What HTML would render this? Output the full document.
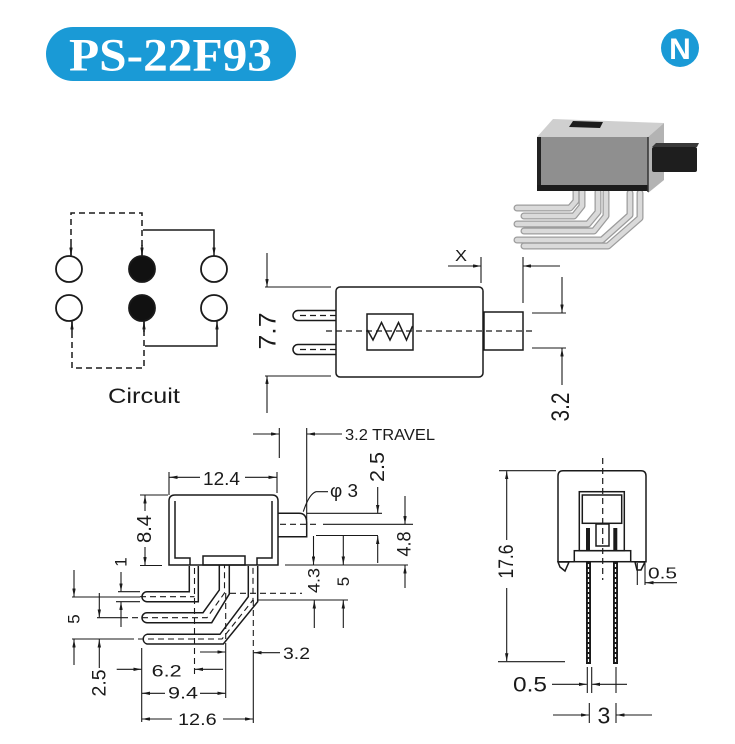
<!DOCTYPE html>
<html><head><meta charset="utf-8"><style>
html,body{margin:0;padding:0;background:#fff;}
svg{display:block;}
text{font-family:"Liberation Sans",Arial,sans-serif;fill:#1a1a1a;}
</style></head><body>
<svg width="735" height="744" viewBox="0 0 735 744" xmlns="http://www.w3.org/2000/svg">
<defs>
<marker id="a" viewBox="0 0 8 3.4" refX="8" refY="1.7" markerWidth="8" markerHeight="3.4" markerUnits="userSpaceOnUse" orient="auto"><path d="M0,0L8,1.7L0,3.4z" fill="#1a1a1a"/></marker>
</defs>
<rect width="735" height="744" fill="#fff"/>

<!-- Title -->
<rect x="46" y="27" width="250" height="54" rx="27" fill="#1a9ad6"/>
<text x="69" y="70.5" font-family="Liberation Serif, serif" font-weight="bold" font-size="47" style="fill:#fff;font-family:'Liberation Serif',serif" textLength="203" lengthAdjust="spacingAndGlyphs">PS-22F93</text>
<circle cx="680" cy="48" r="19" fill="#1a9ad6"/>
<text x="680" y="59" text-anchor="middle" font-weight="bold" font-size="30" style="fill:#fff">N</text>

<!-- Product photo -->
<g fill="none" stroke-linecap="round" stroke-linejoin="round">
 <g stroke="#9c9c9c" stroke-width="7">
  <path d="M517,208 H570 L576,201 V190"/>
  <path d="M524,216 H574 L582,206 V190"/>
  <path d="M517,224 H588 L598,212 V192"/>
  <path d="M524,231 H594 L606,216 V192"/>
  <path d="M517,240 H602 L630,215 V193"/>
  <path d="M524,246 H608 L640,218 V193"/>
 </g>
 <g stroke="#dadada" stroke-width="4.5">
  <path d="M517,208 H570 L576,201 V190"/>
  <path d="M524,216 H574 L582,206 V190"/>
  <path d="M517,224 H588 L598,212 V192"/>
  <path d="M524,231 H594 L606,216 V192"/>
  <path d="M517,240 H602 L630,215 V193"/>
  <path d="M524,246 H608 L640,218 V193"/>
 </g>
</g>
<polygon points="537,137 553,119 664,123 648,137" fill="#cfcfcf"/>
<polygon points="569,127 573,121 603,122 600,128" fill="#1c1c1c"/>
<rect x="537" y="137" width="111" height="52" fill="#8f8f8f"/>
<rect x="537" y="137" width="4" height="52" fill="#222"/>
<rect x="537" y="185" width="111" height="6" fill="#1c1c1c"/>
<polygon points="648,137 664,123 664,180 648,193" fill="#b3b3b3"/>
<line x1="648" y1="137" x2="648" y2="192" stroke="#333" stroke-width="1.5"/>
<polygon points="652,147 656,143 699,143 697,147" fill="#3a3a3a"/>
<rect x="652" y="147" width="45" height="25" rx="2" fill="#1e1e1e"/>

<!-- Circuit -->
<g stroke="#1a1a1a" stroke-width="1.8" fill="#fff">
 <circle cx="69" cy="269" r="13"/>
 <circle cx="142" cy="269" r="13" fill="#111"/>
 <circle cx="214" cy="269" r="13"/>
 <circle cx="69" cy="308" r="13"/>
 <circle cx="142" cy="308" r="13" fill="#111"/>
 <circle cx="214" cy="308" r="13"/>
</g>
<g stroke="#1a1a1a" stroke-width="1.5" fill="none">
 <path d="M71,255 V213 H142 V255" stroke-dasharray="6,4"/>
 <line x1="71" y1="245" x2="71" y2="255.5" marker-end="url(#a)"/>
 <line x1="142" y1="245" x2="142" y2="255.5" marker-end="url(#a)"/>
 <path d="M143,230 H214 V255.5" marker-end="url(#a)"/>
 <path d="M72,322 V368 H144 V322" stroke-dasharray="6,4"/>
 <line x1="72" y1="332" x2="72" y2="321.5" marker-end="url(#a)"/>
 <line x1="144" y1="332" x2="144" y2="321.5" marker-end="url(#a)"/>
 <path d="M145,346 H217 V321.5" marker-end="url(#a)"/>
</g>
<text x="108" y="403" font-size="21" textLength="72" lengthAdjust="spacingAndGlyphs">Circuit</text>

<!-- Top view -->
<g stroke="#1a1a1a" stroke-width="1.5" fill="none">
 <rect x="336" y="287" width="147" height="90" rx="4"/>
 <path d="M336,310.5 H298 A5,5 0 0 0 298,320.5 H336"/>
 <path d="M336,344.5 H298 A5,5 0 0 0 298,354.5 H336"/>
 <rect x="367" y="314" width="46" height="36"/>
 <polyline points="367.5,330 373,340 381.5,322.5 390,340 398.5,322.5 406.5,340 412.5,326"/>
 <rect x="484" y="312" width="39" height="38"/>
</g>
<g stroke="#1a1a1a" stroke-width="1.2" fill="none" stroke-dasharray="6,4">
 <line x1="326" y1="331" x2="533" y2="331"/>
 <line x1="300" y1="315.5" x2="336" y2="315.5"/>
 <line x1="300" y1="349.5" x2="336" y2="349.5"/>
</g>
<g stroke="#1a1a1a" stroke-width="1.1" fill="none">
 <line x1="267" y1="253" x2="267" y2="287" marker-end="url(#a)"/>
 <line x1="265" y1="287" x2="331" y2="287"/>
 <line x1="265" y1="376" x2="331" y2="376"/>
 <line x1="267" y1="413" x2="267" y2="376" marker-end="url(#a)"/>
 <line x1="481" y1="257" x2="481" y2="283"/>
 <line x1="448" y1="266" x2="481" y2="266" marker-end="url(#a)"/>
 <line x1="523" y1="257" x2="523" y2="303"/>
 <line x1="560" y1="266" x2="523" y2="266" marker-end="url(#a)"/>
 <line x1="562" y1="277" x2="562" y2="312.5" marker-end="url(#a)"/>
 <line x1="532" y1="313" x2="566" y2="313"/>
 <line x1="532" y1="348" x2="566" y2="348"/>
 <line x1="562" y1="385" x2="562" y2="348.5" marker-end="url(#a)"/>
 <!-- travel -->
 <line x1="279.3" y1="428" x2="279.3" y2="458"/>
 <line x1="253" y1="434" x2="279" y2="434" marker-end="url(#a)"/>
 <line x1="306.7" y1="428" x2="306.7" y2="520"/>
 <line x1="342" y1="434" x2="307" y2="434" marker-end="url(#a)"/>
</g>
<text transform="translate(268,331) rotate(-90)" text-anchor="middle" dominant-baseline="central" font-size="24" textLength="37" lengthAdjust="spacingAndGlyphs">7.7</text>
<text x="455" y="261" font-size="16" textLength="12" lengthAdjust="spacingAndGlyphs">X</text>
<text transform="translate(561,407) rotate(-90)" text-anchor="middle" dominant-baseline="central" font-size="25" textLength="29" lengthAdjust="spacingAndGlyphs">3.2</text>
<text x="345" y="440" font-size="16" textLength="90" lengthAdjust="spacingAndGlyphs">3.2 TRAVEL</text>

<!-- Front view body -->
<g stroke="#1a1a1a" stroke-width="1.5" fill="none">
 <path d="M169,565 V501 Q169,495 175,495 H272 Q278,495 278,501 V565 Z"/>
 <path d="M175,501 V558 H190 V565"/>
 <path d="M272,501 V558 H257 V565"/>
 <rect x="203" y="556" width="42" height="9"/>
 <path d="M278,513.3 H299 Q306.7,513.3 306.7,523 V536.7 H278"/>
 <!-- pins -->
 <path d="M189.3,566 V591.7 H147 A5,5 0 0 0 147,601.7 H198.3 V566"/>
 <path d="M219.3,565 V590 L203,612.7 H147 A5,5 0 0 0 147,622.7 H211.7 L229.3,594 V565"/>
 <path d="M248.3,566 V596.7 L220,634.3 H147 A5,5 0 0 0 147,644 H223.3 L257.7,601.7 V566"/>
</g>
<g stroke="#1a1a1a" stroke-width="1.1" fill="none" stroke-dasharray="6,4">
 <path d="M140,596.7 H194.5"/>
 <line x1="194.5" y1="568" x2="194.5" y2="677"/>
 <path d="M132,617.7 H207 L224.5,593 V565"/>
 <line x1="225.7" y1="593" x2="225.7" y2="644"/>
 <path d="M128,639 H222 L253,600 V566"/>
 <line x1="253.3" y1="600" x2="253.3" y2="656"/>
 <line x1="230" y1="593.3" x2="302" y2="593.3"/>
 <line x1="280" y1="524.3" x2="317" y2="524.3"/>
</g>
<g stroke="#1a1a1a" stroke-width="1.1" fill="none">
 <!-- 12.4 -->
 <line x1="169" y1="472" x2="169" y2="495"/>
 <line x1="277" y1="472" x2="277" y2="493"/>
 <line x1="200" y1="477.3" x2="169.5" y2="477.3" marker-end="url(#a)"/>
 <line x1="245" y1="477.3" x2="276.5" y2="477.3" marker-end="url(#a)"/>
 <!-- 8.4 -->
 <line x1="140" y1="495" x2="168" y2="495"/>
 <line x1="140" y1="565.5" x2="162" y2="565.5"/>
 <line x1="145" y1="511" x2="145" y2="495.5" marker-end="url(#a)"/>
 <line x1="145" y1="547" x2="145" y2="565" marker-end="url(#a)"/>
 <!-- right side -->
 <line x1="323" y1="524.3" x2="413" y2="524.3"/>
 <line x1="306.7" y1="513.3" x2="382" y2="513.3"/>
 <line x1="316" y1="535.5" x2="378" y2="535.5"/>
 <line x1="285" y1="565" x2="408" y2="565"/>
 <path d="M303.3,511.7 Q309,494 316,491.7 H328"/>
 <line x1="377.7" y1="487" x2="377.7" y2="513" marker-end="url(#a)"/>
 <line x1="377.7" y1="563" x2="377.7" y2="536" marker-end="url(#a)"/>
 <line x1="405" y1="496" x2="405" y2="524" marker-end="url(#a)"/>
 <line x1="405" y1="588" x2="405" y2="565.5" marker-end="url(#a)"/>
 <line x1="313.5" y1="536" x2="313.5" y2="564.5" marker-end="url(#a)"/>
 <line x1="343.3" y1="536" x2="343.3" y2="564.5" marker-end="url(#a)"/>
 <line x1="258" y1="600" x2="348" y2="600"/>
 <line x1="314.3" y1="628" x2="314.3" y2="600.5" marker-end="url(#a)"/>
 <line x1="343.3" y1="628" x2="343.3" y2="600.5" marker-end="url(#a)"/>
 <!-- left dims -->
 <line x1="74" y1="570" x2="74" y2="596.5" marker-end="url(#a)"/>
 <line x1="72" y1="597" x2="140" y2="597"/>
 <line x1="74" y1="665" x2="74" y2="639.5" marker-end="url(#a)"/>
 <line x1="72" y1="639" x2="128" y2="639"/>
 <line x1="99.3" y1="593" x2="99.3" y2="617.3" marker-end="url(#a)"/>
 <line x1="97" y1="617.7" x2="128" y2="617.7"/>
 <line x1="99.3" y1="668" x2="99.3" y2="639.5" marker-end="url(#a)"/>
 <line x1="121" y1="572" x2="121" y2="591.3" marker-end="url(#a)"/>
 <line x1="121" y1="627" x2="121" y2="602" marker-end="url(#a)"/>
 <line x1="118" y1="591.7" x2="140" y2="591.7"/>
 <line x1="116" y1="601.7" x2="140" y2="601.7"/>
 <!-- bottom dims -->
 <line x1="141.7" y1="648" x2="141.7" y2="722"/>
 <line x1="116.7" y1="669.3" x2="141.3" y2="669.3" marker-end="url(#a)"/>
 <line x1="223" y1="669.3" x2="195" y2="669.3" marker-end="url(#a)"/>
 <line x1="200" y1="652" x2="225.3" y2="652" marker-end="url(#a)"/>
 <line x1="280" y1="652.7" x2="253.7" y2="652.7" marker-end="url(#a)"/>
 <line x1="225.7" y1="644" x2="225.7" y2="698"/>
 <line x1="165" y1="693.3" x2="142" y2="693.3" marker-end="url(#a)"/>
 <line x1="200" y1="693.3" x2="225.3" y2="693.3" marker-end="url(#a)"/>
 <line x1="253.3" y1="656" x2="253.3" y2="723"/>
 <line x1="172" y1="719" x2="142" y2="719" marker-end="url(#a)"/>
 <line x1="223" y1="719" x2="253" y2="719" marker-end="url(#a)"/>
</g>
<text x="203" y="485" font-size="18" textLength="37" lengthAdjust="spacingAndGlyphs">12.4</text>
<text transform="translate(145,529) rotate(-90)" text-anchor="middle" dominant-baseline="central" font-size="20" textLength="28" lengthAdjust="spacingAndGlyphs">8.4</text>
<text x="330" y="497" font-size="18" textLength="28" lengthAdjust="spacingAndGlyphs">φ 3</text>
<text transform="translate(378,467) rotate(-90)" text-anchor="middle" dominant-baseline="central" font-size="20" textLength="30" lengthAdjust="spacingAndGlyphs">2.5</text>
<text transform="translate(405,544) rotate(-90)" text-anchor="middle" dominant-baseline="central" font-size="19" textLength="25" lengthAdjust="spacingAndGlyphs">4.8</text>
<text transform="translate(314,580.5) rotate(-90)" text-anchor="middle" dominant-baseline="central" font-size="17" textLength="25" lengthAdjust="spacingAndGlyphs">4.3</text>
<text transform="translate(343.5,581.5) rotate(-90)" text-anchor="middle" dominant-baseline="central" font-size="17">5</text>
<text transform="translate(121,562) rotate(-90)" text-anchor="middle" dominant-baseline="central" font-size="17">1</text>
<text transform="translate(74,619) rotate(-90)" text-anchor="middle" dominant-baseline="central" font-size="17">5</text>
<text transform="translate(100,683) rotate(-90)" text-anchor="middle" dominant-baseline="central" font-size="19" textLength="27" lengthAdjust="spacingAndGlyphs">2.5</text>
<text x="151.7" y="676.7" font-size="17" textLength="30" lengthAdjust="spacingAndGlyphs">6.2</text>
<text x="283" y="659" font-size="17" textLength="27" lengthAdjust="spacingAndGlyphs">3.2</text>
<text x="168" y="698.3" font-size="17" textLength="30" lengthAdjust="spacingAndGlyphs">9.4</text>
<text x="178" y="725" font-size="17" textLength="38.7" lengthAdjust="spacingAndGlyphs">12.6</text>

<!-- Side view -->
<g stroke="#1a1a1a" stroke-width="1.5" fill="none">
 <path d="M558,561.7 V476 Q558,470.7 563,470.7 H641 Q646,470.7 646,476 V561.7 H630.7"/>
 <line x1="558" y1="561.7" x2="574.3" y2="561.7"/>
 <rect x="579.3" y="491.7" width="45" height="59"/>
 <rect x="582.3" y="495" width="39.4" height="28.3"/>
 <rect x="596" y="524" width="13" height="22"/>
 <rect x="574.3" y="550.7" width="56.4" height="11"/>
 <polygon points="558,562 569,562 565,571 560,567" fill="#fff"/>
 <polygon points="635,562 645,562 641,570 637,570" fill="#fff"/>
</g>
<rect x="586" y="528" width="4" height="22" fill="#1a1a1a"/>
<rect x="613.3" y="528" width="4" height="22" fill="#1a1a1a"/>
<rect x="586" y="562" width="5" height="102" fill="#1a1a1a"/>
<rect x="613" y="562" width="5" height="102" fill="#1a1a1a"/>
<g stroke="#fff" stroke-width="1.2" stroke-dasharray="3,2">
 <line x1="588.5" y1="564" x2="588.5" y2="662"/>
 <line x1="615.5" y1="564" x2="615.5" y2="662"/>
</g>
<line x1="602.7" y1="458" x2="602.7" y2="580" stroke="#1a1a1a" stroke-width="1.2" stroke-dasharray="6,4"/>
<g stroke="#1a1a1a" stroke-width="1.1" fill="none">
 <line x1="499" y1="470.7" x2="556" y2="470.7"/>
 <line x1="506.7" y1="540" x2="506.7" y2="471.2" marker-end="url(#a)"/>
 <line x1="506.7" y1="588" x2="506.7" y2="661.2" marker-end="url(#a)"/>
 <line x1="498" y1="661.7" x2="565" y2="661.7"/>
 <line x1="637.3" y1="563" x2="637.3" y2="585"/>
 <line x1="645" y1="563" x2="645" y2="585"/>
 <line x1="677" y1="582.7" x2="645.5" y2="582.7" marker-end="url(#a)"/>
 <line x1="587.3" y1="667" x2="587.3" y2="693"/>
 <line x1="591.7" y1="667" x2="591.7" y2="693"/>
 <line x1="616" y1="667" x2="616" y2="693"/>
 <line x1="552" y1="684.3" x2="586.8" y2="684.3" marker-end="url(#a)"/>
 <line x1="627" y1="684.3" x2="592.2" y2="684.3" marker-end="url(#a)"/>
 <line x1="589.3" y1="703" x2="589.3" y2="723"/>
 <line x1="616" y1="703" x2="616" y2="723"/>
 <line x1="553" y1="715" x2="588.8" y2="715" marker-end="url(#a)"/>
 <line x1="652" y1="715" x2="616.5" y2="715" marker-end="url(#a)"/>
</g>
<text transform="translate(506.7,561.5) rotate(-90)" text-anchor="middle" dominant-baseline="central" font-size="21" textLength="34" lengthAdjust="spacingAndGlyphs">17.6</text>
<text x="648" y="578.3" font-size="16" textLength="29" lengthAdjust="spacingAndGlyphs">0.5</text>
<text x="513" y="691.7" font-size="21" textLength="34" lengthAdjust="spacingAndGlyphs">0.5</text>
<text x="597.5" y="723.3" font-size="23">3</text>
</svg>
</body></html>
